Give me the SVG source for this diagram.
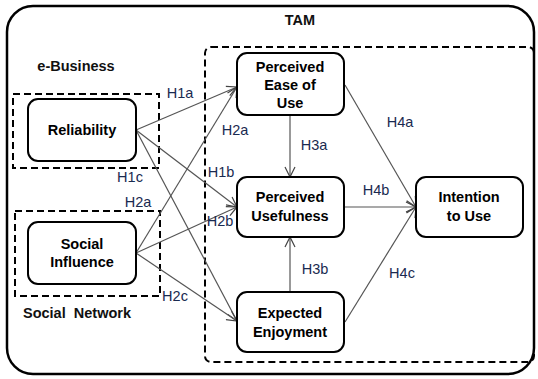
<svg xmlns="http://www.w3.org/2000/svg" width="538" height="379" viewBox="0 0 538 379">
<style>
.node{fill:#fff;stroke:#000;stroke-width:2}
.dash{fill:none;stroke:#000;stroke-width:2;stroke-dasharray:7,4}
.t{font-family:"Liberation Sans",Arial,sans-serif;font-weight:bold;font-size:14.5px;fill:#000;text-anchor:middle}
.g{font-family:"Liberation Sans",Arial,sans-serif;font-weight:bold;font-size:14.5px;fill:#111}
.h{font-family:"Liberation Sans",Arial,sans-serif;font-size:14.5px;fill:#1a2a50;text-anchor:middle}
.c{stroke:#555;stroke-width:1.2;fill:none;marker-end:url(#arr)}
</style>
<defs>
<marker id="arr" viewBox="0 0 12 12" refX="11" refY="6" markerWidth="12" markerHeight="12" markerUnits="userSpaceOnUse" orient="auto">
<path d="M1,1 L11,6 L1,11" fill="none" stroke="#444" stroke-width="1.2"/>
</marker>
</defs>
<rect x="7" y="6" width="527" height="368" rx="26" fill="#fff" stroke="#000" stroke-width="2.5"/>
<text class="g" x="300" y="25" text-anchor="middle">TAM</text>
<rect class="dash" x="205" y="47" width="329" height="315" rx="6"/>
<text class="g" x="76" y="71" text-anchor="middle">e-Business</text>
<rect class="dash" x="13" y="94" width="146" height="74"/>
<rect class="dash" x="15" y="211" width="145" height="85"/>
<text class="g" x="77" y="318" text-anchor="middle">Social&#160;&#160;Network</text>
<g id="connectors">
<line class="c" x1="136" y1="130" x2="237" y2="87"/>
<line class="c" x1="136" y1="130" x2="237" y2="207"/>
<line class="c" x1="136" y1="130" x2="237" y2="321"/>
<line class="c" x1="136" y1="253" x2="237" y2="87"/>
<line class="c" x1="136" y1="253" x2="237" y2="207"/>
<line class="c" x1="136" y1="253" x2="237" y2="321"/>
<line class="c" x1="290" y1="115" x2="290" y2="177"/>
<line class="c" x1="290" y1="292" x2="290" y2="237"/>
<line class="c" x1="344" y1="207" x2="416" y2="207"/>
<line class="c" x1="345" y1="85" x2="416" y2="207"/>
<line class="c" x1="345" y1="322" x2="416" y2="207"/>
</g>
<g id="labels">
<text class="h" x="180" y="98">H1a</text>
<text class="h" x="235" y="135">H2a</text>
<text class="h" x="221" y="177">H1b</text>
<text class="h" x="130" y="182">H1c</text>
<text class="h" x="138" y="207">H2a</text>
<text class="h" x="220" y="226">H2b</text>
<text class="h" x="175" y="301">H2c</text>
<text class="h" x="314" y="150">H3a</text>
<text class="h" x="400" y="127">H4a</text>
<text class="h" x="376" y="195">H4b</text>
<text class="h" x="315" y="274">H3b</text>
<text class="h" x="402" y="278">H4c</text>
</g>
<g id="reliability">
<rect class="node" x="28" y="99" width="108" height="62" rx="10"/>
<text class="t" x="82" y="135">Reliability</text>
</g>
<g id="social-influence">
<rect class="node" x="28" y="222" width="108" height="62" rx="10"/>
<text class="t" x="82" y="249">Social</text>
<text class="t" x="82" y="267">Influence</text>
</g>
<g id="peou">
<rect class="node" x="237" y="53" width="107" height="62" rx="10"/>
<text class="t" x="290" y="72">Perceived</text>
<text class="t" x="290" y="90">Ease of</text>
<text class="t" x="290" y="108">Use</text>
</g>
<g id="pu">
<rect class="node" x="237" y="177" width="107" height="60" rx="10"/>
<text class="t" x="290" y="202">Perceived</text>
<text class="t" x="290" y="221">Usefulness</text>
</g>
<g id="ee">
<rect class="node" x="237" y="292" width="107" height="60" rx="10"/>
<text class="t" x="290" y="318">Expected</text>
<text class="t" x="290" y="337">Enjoyment</text>
</g>
<g id="itu">
<rect class="node" x="416" y="177" width="107" height="60" rx="10"/>
<text class="t" x="469" y="202">Intention</text>
<text class="t" x="469" y="221">to Use</text>
</g>
</svg>
